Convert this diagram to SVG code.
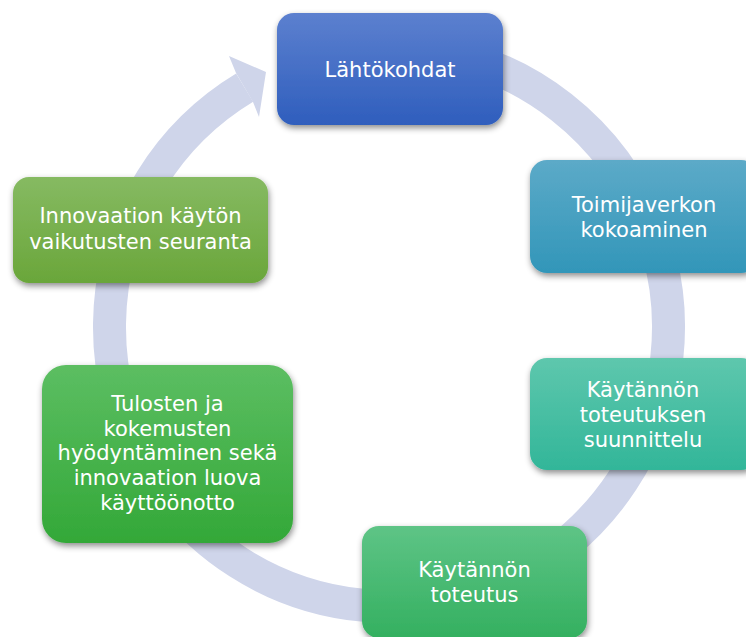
<svg xmlns="http://www.w3.org/2000/svg" width="746" height="637" viewBox="0 0 746 637">
  <defs>
    <style>
      .node-text { font-family: "DejaVu Sans", Verdana, sans-serif; font-size: 21px; fill: #ffffff; text-anchor: middle; }
      .ring { fill: none; stroke: #cfd5ea; stroke-width: 33; }
      .ring-head { fill: #cfd5ea; }
      .box { filter: url(#shadow); }
    </style>
    <filter id="shadow" x="-20%" y="-20%" width="140%" height="150%">
      <feDropShadow dx="1" dy="3" stdDeviation="3" flood-color="#000000" flood-opacity="0.45"/>
    </filter>
    <linearGradient id="g1" x1="0" y1="0" x2="0" y2="1">
      <stop offset="0" stop-color="#5c80cf"/>
      <stop offset="1" stop-color="#2f5ebd"/>
    </linearGradient>
    <linearGradient id="g2" x1="0" y1="0" x2="0" y2="1">
      <stop offset="0" stop-color="#5caac8"/>
      <stop offset="1" stop-color="#3296b9"/>
    </linearGradient>
    <linearGradient id="g3" x1="0" y1="0" x2="0" y2="1">
      <stop offset="0" stop-color="#5ec7ad"/>
      <stop offset="1" stop-color="#32b699"/>
    </linearGradient>
    <linearGradient id="g4" x1="0" y1="0" x2="0" y2="1">
      <stop offset="0" stop-color="#5ec486"/>
      <stop offset="1" stop-color="#34b060"/>
    </linearGradient>
    <linearGradient id="g5" x1="0" y1="0" x2="0" y2="1">
      <stop offset="0" stop-color="#5cbe62"/>
      <stop offset="1" stop-color="#33a838"/>
    </linearGradient>
    <linearGradient id="g6" x1="0" y1="0" x2="0" y2="1">
      <stop offset="0" stop-color="#86ba62"/>
      <stop offset="1" stop-color="#6aa63a"/>
    </linearGradient>
  </defs>

  <rect width="746" height="637" fill="#ffffff"/>

  <!-- circular flow arrow behind the steps -->
  <g id="connectors">
    <path class="ring" d="M 293.41 64.35 A 279.5 279.5 0 1 1 244.64 87.66"/>
    <polygon class="ring-head" points="229,56 266,72 259,117 253,102 236,73"/>
  </g>

  <g id="node-lahtokohdat">
    <rect class="box" x="277" y="13" width="226" height="112" rx="17" fill="url(#g1)"/>
    <text class="node-text" x="390" y="77">Lähtökohdat</text>
  </g>

  <g id="node-toimijaverkko">
    <rect class="box" x="530" y="160" width="228" height="113" rx="17" fill="url(#g2)"/>
    <text class="node-text" x="644" y="212">Toimijaverkon</text>
    <text class="node-text" x="644" y="237">kokoaminen</text>
  </g>

  <g id="node-suunnittelu">
    <rect class="box" x="530" y="358" width="228" height="112" rx="17" fill="url(#g3)"/>
    <text class="node-text" x="643" y="397">Käytännön</text>
    <text class="node-text" x="643" y="422">toteutuksen</text>
    <text class="node-text" x="643" y="447">suunnittelu</text>
  </g>

  <g id="node-toteutus">
    <rect class="box" x="362" y="526" width="225" height="112" rx="17" fill="url(#g4)"/>
    <text class="node-text" x="474.5" y="577">Käytännön</text>
    <text class="node-text" x="474.5" y="602">toteutus</text>
  </g>

  <g id="node-kayttoonotto">
    <rect class="box" x="42" y="365" width="251" height="178" rx="24" fill="url(#g5)"/>
    <text class="node-text" x="167.5" y="411">Tulosten ja</text>
    <text class="node-text" x="167.5" y="436">kokemusten</text>
    <text class="node-text" x="167.5" y="460">hyödyntäminen sekä</text>
    <text class="node-text" x="167.5" y="485">innovaation luova</text>
    <text class="node-text" x="167.5" y="510">käyttöönotto</text>
  </g>

  <g id="node-seuranta">
    <rect class="box" x="13" y="177" width="255" height="106" rx="16" fill="url(#g6)"/>
    <text class="node-text" x="140.5" y="223">Innovaation käytön</text>
    <text class="node-text" x="140.5" y="249">vaikutusten seuranta</text>
  </g>
</svg>
